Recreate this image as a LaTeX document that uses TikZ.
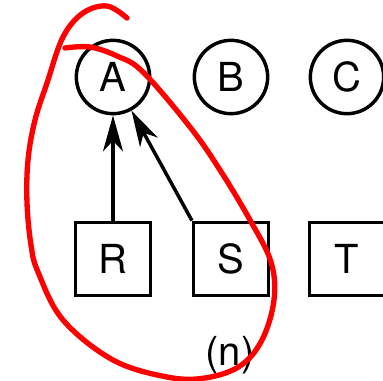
\documentclass[tikz,border=0pt]{standalone}
\usepackage{fontspec}
\setmainfont{TeX Gyre Heros}
\usepackage{tikz}
\usetikzlibrary{arrows.meta,positioning,shapes}
\tikzset{%
	vertex/.style = {draw, circle, line width=2.6pt, minimum size=55pt, inner sep=0pt, font=\fontsize{30}{36}\selectfont},
	block/.style  = {draw, rectangle, line width=2.6pt, minimum width=56pt, minimum height=55pt, inner sep=0pt, font=\fontsize{30}{36}\selectfont},
	arrow/.style  = {line width=2.6pt, -{Stealth[length=27pt, width=15pt, inset=8pt]}},
	lasso/.style  = {red, line width=4pt, line cap=round},
}

\begin{document}
\begin{tikzpicture}[x=0.75pt,y=-0.75pt]
			\useasboundingbox (0,0) rectangle (383,380);
			\node[vertex] (A) at (113,77) {A};
			\node[vertex] (B) at (231,77) {B};
			\node[vertex] (C) at (347,77) {C};
			\node[block] (R) at (113,259) {R};
			\node[block] (S) at (231,259) {S};
			\node[block] (T) at (347,259) {T};
			\draw[arrow] (R) -- (A);
			\draw[arrow] (S.north west) -- (A);
			\node[font=\fontsize{30}{36}\selectfont] (lab) at (230,355) {(n)};
			\draw[lasso] plot[smooth,tension=0.6] coordinates {(127,18) (107,6) (83,13) (63,37) (47,83) (35,120) (28,160) (27,203) (31,245) (38,272) (63,320) (113,360) (167,377) (205,378) (240,366) (262,340) (274,300) (271,262) (250,220) (220,170) (190,127) (143,72) (117,56) (90,47) (65,48)};
			\end{tikzpicture}
\end{document}
